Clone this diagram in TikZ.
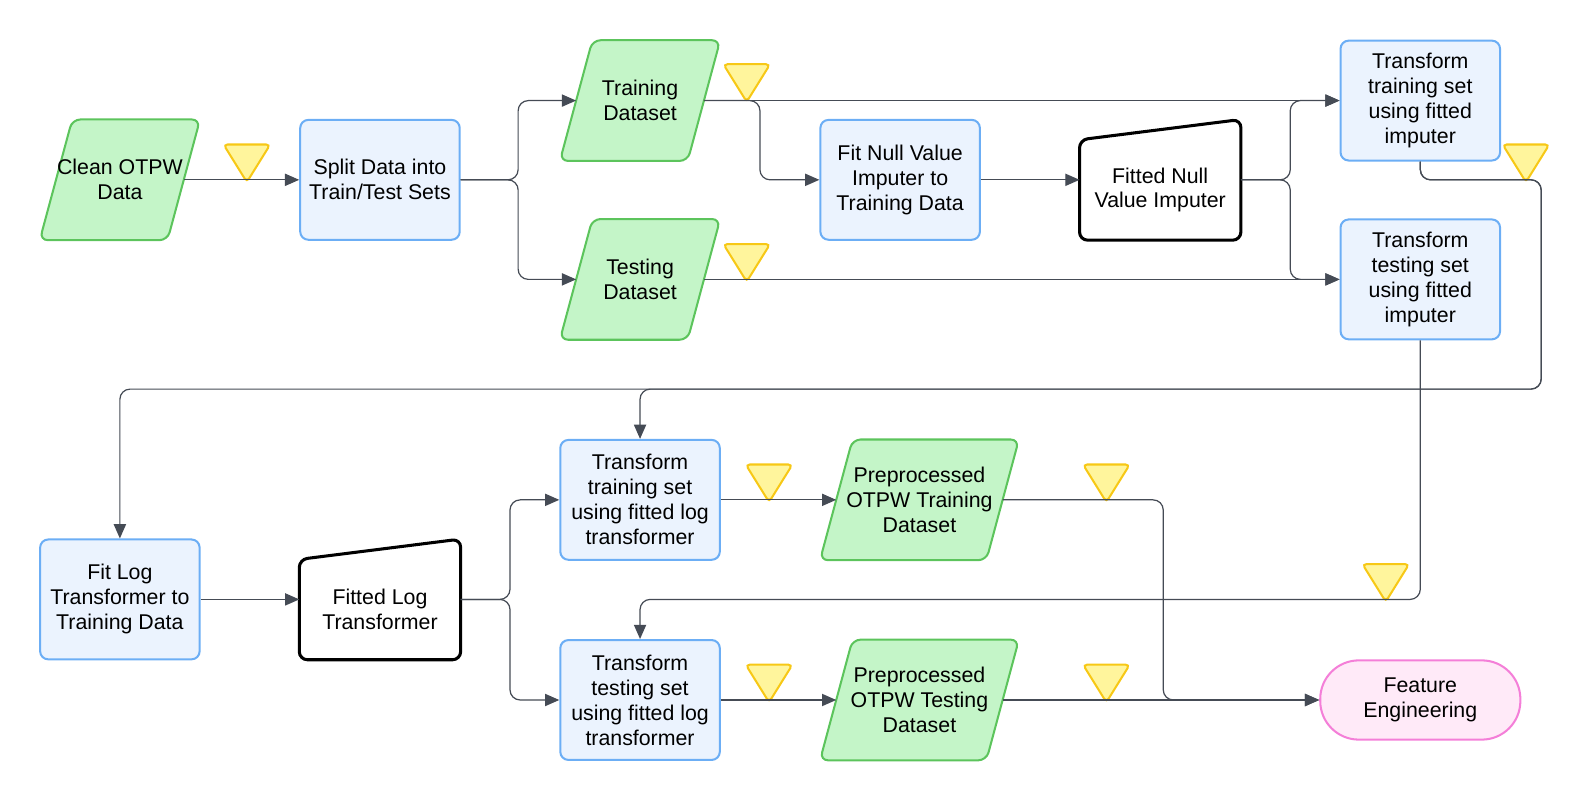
\documentclass[tikz,border=0pt]{standalone}
\usepackage{fontspec}
\setmainfont{Liberation Sans}
\usetikzlibrary{positioning}
\usetikzlibrary{backgrounds}
\usetikzlibrary{shapes.geometric}
\usetikzlibrary{arrows.meta}

\definecolor{procfill}{HTML}{EBF3FE}
\definecolor{procline}{HTML}{6CAEF5}
\definecolor{datafill}{HTML}{C4F5C8}
\definecolor{dataline}{HTML}{5CC45C}
\definecolor{endfill}{HTML}{FFEAF8}
\definecolor{endline}{HTML}{F47FD8}
\definecolor{flagfill}{HTML}{FFF59C}
\definecolor{flagline}{HTML}{F7C816}
\definecolor{wire}{HTML}{454B55}

\tikzset{
  every node/.style={font=\fontsize{10.5}{12.3}\selectfont, align=center},
  proc/.style={draw=procline, fill=procfill, line width=1pt, rounded corners=4pt,
    minimum width=78.5pt, minimum height=59pt, inner sep=1pt},
  data/.style={minimum width=78.5pt, minimum height=59pt, inner sep=1pt},
  dataline/.style={draw=dataline, fill=datafill, line width=1pt, rounded corners=4pt},
  fitted/.style={minimum width=79pt, minimum height=49pt, inner sep=0pt},
  fitline/.style={draw=black, fill=white, line width=1.5pt, rounded corners=4pt},
  term/.style={draw=endline, fill=endfill, line width=1pt, rounded corners=19pt,
    minimum width=98.5pt, minimum height=39pt},
  flag/.style={isosceles triangle, isosceles triangle stretches, shape border rotate=-90,
    draw=flagline, fill=flagfill, line width=1pt, rounded corners=2pt, inner sep=0pt,
    minimum width=23pt, minimum height=18.5pt},
  flow/.style={draw=wire, line width=0.6pt, rounded corners=5pt,
    -{Triangle[length=7pt,width=6pt]}}
}

% slanted frame behind a data node
\newcommand{\dataframe}[1]{%
  \begin{scope}[on background layer]
    \draw[dataline] (#1.south west) -- ([xshift=16pt]#1.north west) -- (#1.north east)
      -- ([xshift=-16pt]#1.south east) -- cycle;
  \end{scope}}
% manual input frame behind a fitted node
\newcommand{\fitframe}[1]{%
  \begin{scope}[on background layer]
    \draw[fitline] (#1.south west) -- (#1.north west) -- ([yshift=10pt]#1.north east)
      -- (#1.south east) -- cycle;
  \end{scope}}

\begin{document}
\begin{tikzpicture}[x=0.5pt, y=-0.5pt]
  \useasboundingbox (0,0) rectangle (1568,787);

  % stage one: null values
  \node[data] (clean) at (118,177) {Clean OTPW\\Data};
  \node[proc] (split) at (374,177) {Split Data into\\Train/Test Sets};
  \node[data] (train) at (630,99) {Training\\Dataset};
  \node[data] (test) at (630,275) {Testing\\Dataset};
  \node[proc] (fitnull) at (886,177) {Fit Null Value\\Imputer to\\Training Data};
  \node[fitted] (fnull) at (1142,187) {Fitted Null\\Value Imputer};
  \node[proc] (trimp) at (1398,99) {Transform\\training set\\using fitted\\imputer};
  \node[proc] (teimp) at (1398,275) {Transform\\testing set\\using fitted\\imputer};
  \dataframe{clean}
  \dataframe{train}
  \dataframe{test}
  \fitframe{fnull}

  % stage two: log transform
  \node[proc] (fitlog) at (118,590) {Fit Log\\Transformer to\\Training Data};
  \node[fitted] (flog) at (374,600) {Fitted Log\\Transformer};
  \node[proc] (trlog) at (630,492) {Transform\\training set\\using fitted log\\transformer};
  \node[proc] (telog) at (630,689) {Transform\\testing set\\using fitted log\\transformer};
  \node[data, minimum width=97.5pt] (pptrain) at (905,492) {Preprocessed\\OTPW Training\\Dataset};
  \node[data, minimum width=97.5pt] (pptest) at (905,689) {Preprocessed\\OTPW Testing\\Dataset};
  \node[term] (feat) at (1398,689) {\raisebox{-1.5pt}{Feature}\\\raisebox{-1.5pt}{Engineering}};
  \fitframe{flog}
  \dataframe{pptrain}
  \dataframe{pptest}

  % markers
  \node[flag] (f1) at (243,155) {};
  \node[flag] (f2) at (735,76) {};
  \node[flag] (f3) at (735,253) {};
  \node[flag] (f4) at (1502,155) {};
  \node[flag] (f5) at (757,470) {};
  \node[flag] (f6) at (1089,470) {};
  \node[flag] (f7) at (1364,568) {};
  \node[flag] (f8) at (757,667) {};
  \node[flag] (f9) at (1089,667) {};

  % connectors
  \draw[flow] ([xshift=-8pt]clean.east) -- (split.west);
  \draw[flow] (split.east) -- (510,177) -- (510,99) -- ([xshift=8pt]train.west);
  \draw[flow] (split.east) -- (510,177) -- (510,275) -- ([xshift=8pt]test.west);
  \draw[flow] ([xshift=-8pt]train.east) -- (trimp.west);
  \draw[flow] ([xshift=-8pt]train.east) -- (748,99) -- (748,177) -- (fitnull.west);
  \draw[flow] (fitnull.east) -- (fitnull.east -| fnull.west);
  \draw[flow] (fnull.east |- fitnull.east) -- (1270,177) -- (1270,99) -- (trimp.west);
  \draw[flow] (fnull.east |- fitnull.east) -- (1270,177) -- (1270,275) -- (teimp.west);
  \draw[flow] ([xshift=-8pt]test.east) -- (teimp.west);
  \draw[flow] (trimp.south) -- (1398,177) -- (1517,177) -- (1517,383) -- (630,383) -- (trlog.north);
  \draw[flow] (trimp.south) -- (1398,177) -- (1517,177) -- (1517,383) -- (118,383) -- (fitlog.north);
  \draw[flow] (teimp.south) -- (1398,590) -- (630,590) -- (telog.north);
  \draw[flow] (fitlog.east) -- (flog.west |- fitlog.east);
  \draw[flow] (flog.east |- fitlog.east) -- (502,590) -- (502,492) -- (trlog.west);
  \draw[flow] (flog.east |- fitlog.east) -- (502,590) -- (502,689) -- (telog.west);
  \draw[flow] (trlog.east) -- ([xshift=8pt]pptrain.west);
  \draw[flow] (telog.east) -- ([xshift=8pt]pptest.west);
  \draw[flow] ([xshift=-8pt]pptrain.east) -- (1145,492) -- (1145,689) -- (feat.west);
  \draw[flow] ([xshift=-8pt]pptest.east) -- (feat.west);
\end{tikzpicture}
\end{document}
